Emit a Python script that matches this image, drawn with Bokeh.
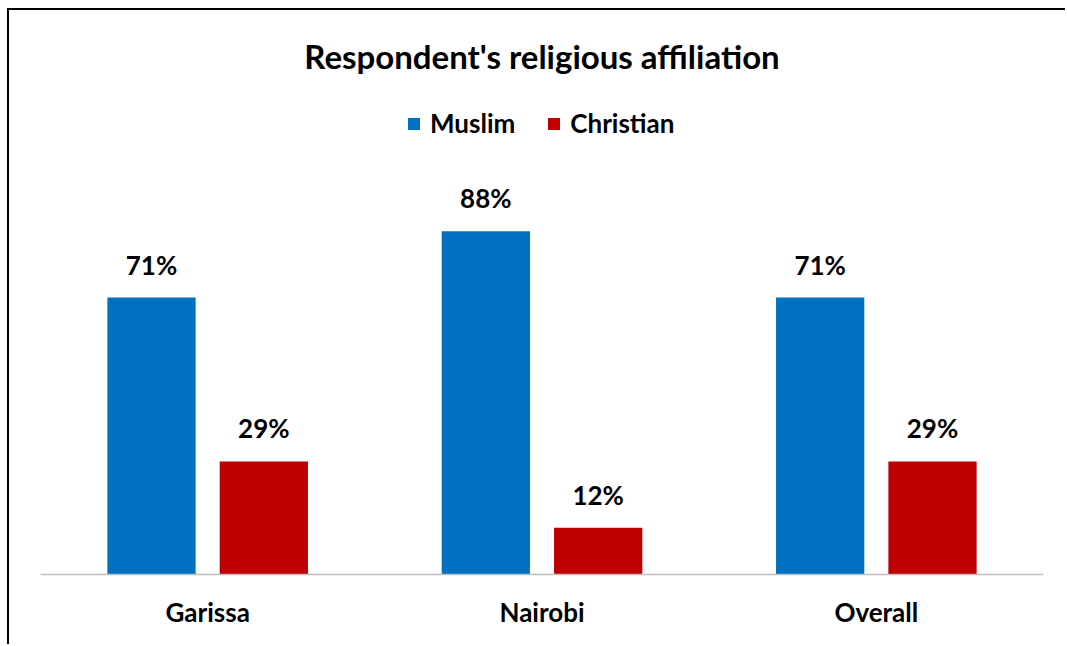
from bokeh.plotting import figure
from bokeh.models import ColumnDataSource, Range1d, Legend, LegendItem
from bokeh.transform import dodge
from bokeh.embed import file_html
from bokeh.resources import INLINE
from bokeh.core.properties import value

categories = ["Garissa", "Nairobi", "Overall"]
muslim = [71, 88, 71]
christian = [29, 12, 29]
series = ["Muslim", "Christian"]
colors = ["#0070C0", "#C00000"]

FONT = "Lato"

src = ColumnDataSource(dict(
    cat=categories,
    muslim=muslim,
    christian=christian,
    muslim_lbl=[f"{v}%" for v in muslim],
    christian_lbl=[f"{v}%" for v in christian],
))

p = figure(
    x_range=categories, y_range=Range1d(0, 124.1),
    width=1058, height=636,
    output_backend="svg", toolbar_location=None,
    min_border_left=31, min_border_right=24,
    min_border_top=80, min_border_bottom=72,
    title="Respondent's religious affiliation",
    styles={"border-left": "2px solid black", "border-top": "2px solid black",
            "margin-left": "7px", "margin-top": "8px"},
)
p.outline_line_color = None
p.background_fill_color = "white"
p.border_fill_color = "white"

p.title.align = "center"
p.title.text_font = FONT
p.title.text_font_size = "33px"
p.title.text_font_style = "bold"
p.title.text_color = "black"
p.title.standoff = 29

w = 0.264
off = 0.168
r1 = p.vbar(x=dodge("cat", -off, range=p.x_range), top="muslim", width=w,
            source=src, color=colors[0], line_color=None)
r2 = p.vbar(x=dodge("cat", off, range=p.x_range), top="christian", width=w,
            source=src, color=colors[1], line_color=None)

for col, lbl, d in (("muslim", "muslim_lbl", -off), ("christian", "christian_lbl", off)):
    p.text(x=dodge("cat", d, range=p.x_range), y=col, text=lbl, source=src,
           text_align="center", text_baseline="alphabetic", y_offset=-33,
           text_font=value(FONT), text_font_style="bold", text_font_size="26px",
           text_color="black")

legend = Legend(items=[LegendItem(label=series[0], renderers=[r1]),
                       LegendItem(label=series[1], renderers=[r2])],
                orientation="horizontal", location=(366, 435),
                glyph_width=15, glyph_height=15, label_standoff=9, spacing=31,
                padding=0, margin=0, border_line_color=None,
                background_fill_alpha=0,
                label_text_font=FONT, label_text_font_style="bold",
                label_text_font_size="26px", label_text_color="black")
p.add_layout(legend)

p.yaxis.visible = False
p.xgrid.grid_line_color = None
p.ygrid.grid_line_color = None
ax = p.xaxis[0]
ax.axis_line_color = "#BFBFBF"
ax.axis_line_width = 1.5
ax.major_tick_line_color = None
ax.minor_tick_line_color = None
ax.major_label_standoff = 15
ax.major_label_text_font = FONT
ax.major_label_text_font_style = "bold"
ax.major_label_text_font_size = "26px"
ax.major_label_text_color = "black"
p.x_range.range_padding = 0

open("out.html", "w").write(file_html(p, INLINE))
